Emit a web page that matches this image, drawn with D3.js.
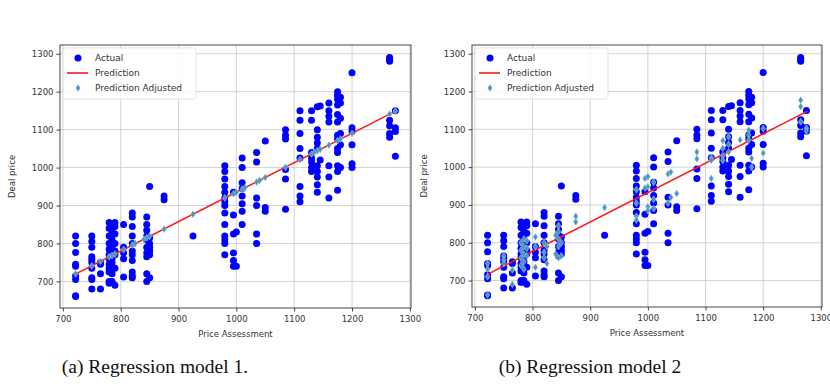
<!DOCTYPE html>
<html>
<head>
<meta charset="utf-8">
<script src="https://cdn.jsdelivr.net/npm/d3@7"></script>
<style>
  body { margin: 0; background: #fff; }
  svg { display: block; }
  .tick text { font-family: "DejaVu Sans", sans-serif; font-size: 8.5px; fill: #333; }
  .axis-label { font-family: "DejaVu Sans", sans-serif; font-size: 8.5px; fill: #333; }
  .legend text { font-family: "DejaVu Sans", sans-serif; font-size: 9px; fill: #333; }
  .caption { font-family: "Liberation Serif", serif; font-size: 19.5px; fill: #111; }
</style>
</head>
<body>
<svg id="chart" width="830" height="390"></svg>
<script>
// price assessment columns and the actual deal prices observed at each
const actualX = [722, 750, 765, 780, 785, 790, 805, 820, 845, 850, 875, 925,
  980, 995, 1000, 1010, 1035, 1050, 1085, 1110, 1130, 1140, 1145, 1160, 1175, 1180, 1200, 1265, 1275];
const actualY = [
  [820, 800, 776, 745, 740, 715, 705, 662, 660],
  [820, 805, 790, 765, 758, 750, 735, 710, 705, 680],
  [750, 745, 720, 680],
  [855, 840, 820, 800, 785, 770, 760, 745, 735, 725, 700, 695],
  [850, 830, 810, 790, 775, 760, 750, 740, 720, 700],
  [855, 845, 825, 800, 780, 770, 735, 690],
  [850, 790, 775, 760, 712],
  [880, 870, 845, 820, 800, 780, 770, 755, 725, 715, 710],
  [870, 850, 835, 820, 810, 790, 775, 765, 720, 700],
  [950, 815, 800, 790, 780, 770, 710],
  [925, 915],
  [820],
  [1005, 990, 970, 950, 935, 920, 910, 900, 880, 850, 820, 810, 800, 770],
  [935, 875, 825, 775, 755, 740],
  [830, 740],
  [1025, 1000, 960, 945, 925, 905, 885, 850],
  [1040, 1015, 920, 900, 825, 800],
  [1070, 895, 885],
  [1100, 1085, 1075, 995, 970, 890],
  [1150, 1125, 1090, 1050, 1025, 950, 925, 910],
  [1150, 1125, 1040, 1025, 1015, 1000, 990],
  [1160, 1100, 1080, 1065, 1050, 1005, 990, 975, 955, 935],
  [1162, 1020],
  [1170, 1150, 1135, 1120, 1005, 975, 920],
  [1200, 1190, 1180, 1165, 1140, 1120, 1085, 1075, 1050, 1040, 1005, 990, 940],
  [1185, 1170, 1130, 1090, 1060, 1000],
  [1250, 1105, 1095, 1060, 1010, 1000],
  [1290, 1285, 1280, 1125, 1110, 1090, 1080],
  [1150, 1105, 1095, 1030]
];

// model 1: prediction line ends and adjusted predictions (on the line)
const pred1X = [720, 1277];
const pred1Y = [718, 1150];
const adj1X = [722, 750, 765, 780, 785, 790, 805, 820, 825, 840, 845, 850, 875, 925, 980, 995, 1000,
  1010, 1015, 1035, 1040, 1050, 1085, 1110, 1130, 1135, 1140, 1145, 1160, 1175, 1180, 1200, 1265, 1275];
const adj1Y = [720, 741, 753, 765, 768, 772, 784, 796, 800, 811, 815, 819, 838, 877, 920, 931, 935,
  943, 947, 962, 966, 974, 1001, 1021, 1036, 1040, 1044, 1048, 1059, 1071, 1075, 1090, 1141, 1149];

// model 2: prediction line ends and adjusted predictions (scattered)
const pred2X = [720, 1277];
const pred2Y = [715, 1148];
const adj2X = [722, 750, 765, 780, 785, 790, 805, 820, 825, 840, 845, 850, 875, 925, 980, 995, 1000,
  1010, 1035, 1040, 1050, 1085, 1110, 1130, 1140, 1160, 1175, 1180, 1200, 1265, 1275];
const adj2Y = [
  [745, 730, 710, 662], [765, 755, 745], [728, 690], [800, 780, 760, 740],
  [810, 790, 770, 750, 730], [805, 785, 765], [815, 790, 735], [800, 775, 760],
  [790, 745], [820, 770], [845, 830, 810, 790, 760], [800, 765], [870, 855], [893],
  [940, 905, 870, 860], [970, 945], [975, 948, 895, 885], [960, 915, 890],
  [982, 905], [987, 920], [930], [1040, 1022], [1025, 1018, 970],
  [1070, 1050, 1030, 1018], [1080, 1060, 1040], [1072], [1098, 1085, 1072],
  [1023, 1000], [1102, 1037], [1177, 1160, 1120], [1103, 1095]
];

const xTicks = [700, 800, 900, 1000, 1100, 1200, 1300];
const yTicks = [700, 800, 900, 1000, 1100, 1200, 1300];
const legendLabels = ['Actual', 'Prediction', 'Prediction Adjusted'];
const captions = ['(a) Regression model 1.', '(b) Regression model 2'];

const flatten = (xs, ys) => xs.flatMap((x, i) => ys[i].map(y => [x, y]));
const actualPts = flatten(actualX, actualY);

const svg = d3.select('#chart');
const adjFill = '#4b93b6';
const adjStroke = '#8cc3dc';
const diamond = 'M0,-3.4L2.2,0L0,3.4L-2.2,0Z';

function drawPanel(box, predX, predY, adjPts, caption) {
  const x = d3.scaleLinear().domain([695, 1302]).range([box.left, box.right]);
  const y = d3.scaleLinear().domain([630, 1323]).range([box.bottom, box.top]);
  const g = svg.append('g');

  // grid
  g.append('g').selectAll('line').data(xTicks).join('line')
    .attr('x1', d => x(d)).attr('x2', d => x(d))
    .attr('y1', box.top).attr('y2', box.bottom)
    .attr('stroke', '#c8c8c8').attr('stroke-width', 0.8);
  g.append('g').selectAll('line').data(yTicks).join('line')
    .attr('x1', box.left).attr('x2', box.right)
    .attr('y1', d => y(d)).attr('y2', d => y(d))
    .attr('stroke', '#c8c8c8').attr('stroke-width', 0.8);

  // actual
  g.append('g').selectAll('circle').data(actualPts).join('circle')
    .attr('cx', d => x(d[0])).attr('cy', d => y(d[1]))
    .attr('r', 3.5).attr('fill', '#0000ff');

  // prediction line
  const line = d3.line().x(d => x(d[0])).y(d => y(d[1]));
  g.append('path').datum(predX.map((v, i) => [v, predY[i]]))
    .attr('d', line).attr('fill', 'none')
    .attr('stroke', '#ff1a1a').attr('stroke-width', 1.6);

  // adjusted
  g.append('g').selectAll('path').data(adjPts).join('path')
    .attr('d', diamond)
    .attr('transform', d => `translate(${x(d[0])},${y(d[1])})`)
    .attr('fill', adjFill).attr('stroke', adjStroke).attr('stroke-width', 0.7);

  // axes
  g.append('g').attr('transform', `translate(0,${box.bottom})`)
    .call(d3.axisBottom(x).tickValues(xTicks).tickSize(3.5).tickPadding(4.5).tickFormat(d3.format('d')))
    .call(a => a.select('.domain').remove());
  g.append('g').attr('transform', `translate(${box.left},0)`)
    .call(d3.axisLeft(y).tickValues(yTicks).tickSize(3.5).tickPadding(3).tickFormat(d3.format('d')))
    .call(a => a.select('.domain').remove());
  g.selectAll('.tick line').attr('stroke', '#444');

  g.append('rect')
    .attr('x', box.left).attr('y', box.top)
    .attr('width', box.right - box.left).attr('height', box.bottom - box.top)
    .attr('fill', 'none').attr('stroke', '#333').attr('stroke-width', 0.9);

  g.append('text').attr('class', 'axis-label')
    .attr('x', (box.left + box.right) / 2).attr('y', box.bottom + 29)
    .attr('text-anchor', 'middle').text('Price Assessment');
  g.append('text').attr('class', 'axis-label')
    .attr('transform', `translate(${box.left - 45},${(box.top + box.bottom) / 2}) rotate(-90)`)
    .attr('text-anchor', 'middle').text('Deal price');

  // legend
  const lg = g.append('g').attr('class', 'legend')
    .attr('transform', `translate(${box.left + 3},${box.top + 3})`);
  lg.append('rect').attr('width', 133).attr('height', 51).attr('rx', 2)
    .attr('fill', '#fff').attr('fill-opacity', 0.85)
    .attr('stroke', '#ddd').attr('stroke-width', 0.8);
  lg.append('circle').attr('cx', 15).attr('cy', 10).attr('r', 3.5).attr('fill', '#0000ff');
  lg.append('line').attr('x1', 4).attr('x2', 25).attr('y1', 25).attr('y2', 25)
    .attr('stroke', '#ff1a1a').attr('stroke-width', 1.6);
  lg.append('path').attr('d', diamond).attr('transform', 'translate(15,40)')
    .attr('fill', adjFill).attr('stroke', adjStroke).attr('stroke-width', 0.7);
  lg.selectAll('text.lbl').data(legendLabels).join('text').attr('class', 'lbl')
    .attr('x', 32).attr('y', (d, i) => 13 + i * 15).text(d => d);

  svg.append('text').attr('class', 'caption')
    .attr('x', box.capX).attr('y', 373).attr('text-anchor', 'middle').text(caption);
}

drawPanel({ left: 60, right: 411, top: 45, bottom: 308, capX: 155 },
  pred1X, pred1Y, adj1X.map((v, i) => [v, adj1Y[i]]), captions[0]);
drawPanel({ left: 472, right: 822, top: 45, bottom: 307, capX: 590 },
  pred2X, pred2Y, flatten(adj2X, adj2Y), captions[1]);
</script>
</body>
</html>
